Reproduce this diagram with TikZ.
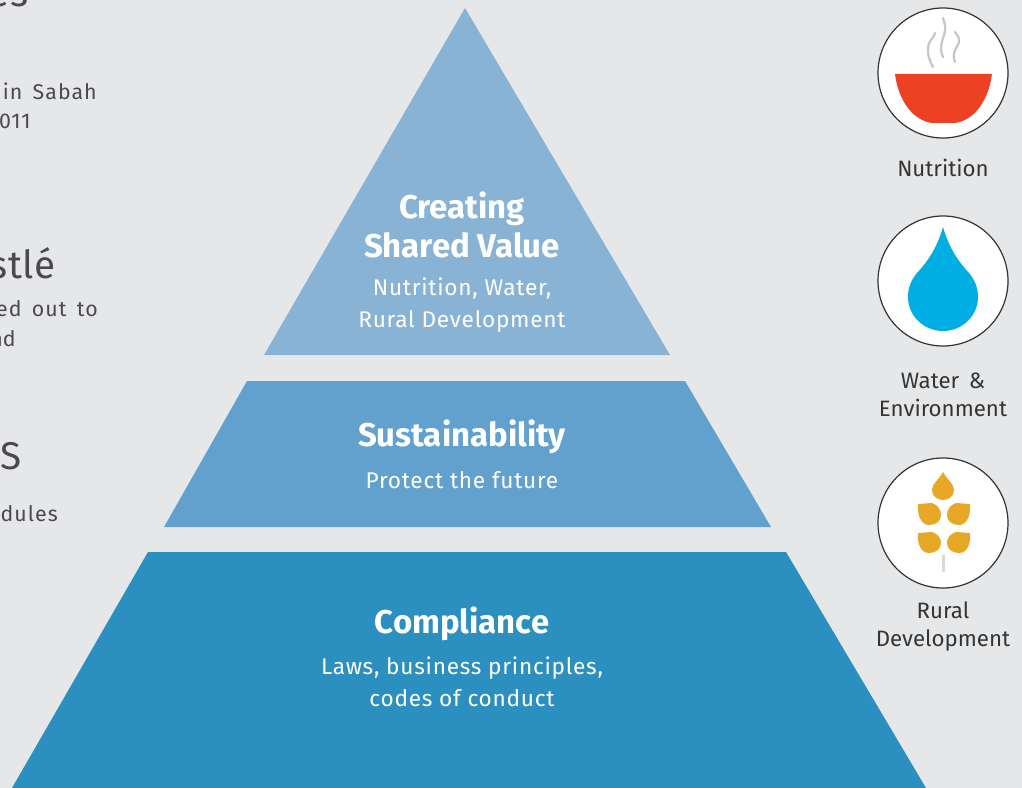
\documentclass[tikz,border=0pt]{standalone}
\usepackage{fontspec}
\setmainfont{Fira Sans}
\definecolor{bgc}{HTML}{E6E7E8}
\definecolor{topc}{HTML}{88B3D5}
\definecolor{midc}{HTML}{62A1CD}
\definecolor{lowc}{HTML}{2B90C0}
\definecolor{txtc}{HTML}{4A4A4C}
\definecolor{bowlc}{HTML}{EC4123}
\definecolor{dropc}{HTML}{00AEE4}
\definecolor{wheatc}{HTML}{E6A826}
\tikzset{
 x=0.75pt,y=-0.75pt,
 title/.style={anchor=base,text=white,font=\fontsize{24.7}{25}\selectfont\bfseries,inner sep=0pt},
 sub/.style={anchor=base,text=white,font=\fontsize{17}{17}\selectfont\addfontfeature{LetterSpace=3.2},inner sep=0pt},
 captext/.style={anchor=base,text=txtc!70!black,font=\fontsize{16.7}{17}\selectfont,inner sep=0pt},
 lefttext/.style={anchor=base east,text=txtc,font=\fontsize{16}{16}\selectfont\addfontfeature{LetterSpace=5},inner sep=0pt},
 lefthead/.style={anchor=base east,text=txtc,font=\fontsize{29}{29}\selectfont\addfontfeature{LetterSpace=2},inner sep=0pt},
 badge/.style={circle,draw=black!80,line width=0.9pt,fill=white,minimum size=97.5pt,inner sep=0pt},
 grain/.style={fill=wheatc},
 steam/.style={black!22,line width=1.7pt,line cap=round},
}
\begin{document}
\begin{tikzpicture}
\useasboundingbox (0,0) rectangle (1022,788);
\clip (0,0) rectangle (1022,788);
\fill[bgc] (0,0) rectangle (1022,788);
% left cut-off text
\node[lefthead] (h1) at (29,7) {es};
\node[lefttext] (l1) at (97,100) {in\, Sabah};
\node[lefttext] (l2) at (31,129) {011};
\node[lefthead] (h2) at (56,279) {stlé};
\node[lefttext] (l3) at (98,316) {ed\, out\, to};
\node[lefttext,font=\fontsize{16}{16}\selectfont] (l4) at (16,346) {nd};
\node[lefthead] (h3) at (22,469) {S};
\node[lefttext] (l5) at (58,521) {dules};
% pyramid
\fill[topc] (465,8) -- (670,355) -- (264,355) -- cycle;
\fill[midc] (247,381) -- (685,381) -- (771,527) -- (164,527) -- cycle;
\fill[lowc] (148,552) -- (786,552) -- (926,788) -- (12,788) -- cycle;
\node[title] (t1a) at (462,219) {Creating};
\node[title] (t1b) at (462,258) {Shared Value};
\node[sub] (s1a) at (462,296) {Nutrition, Water,};
\node[sub] (s1b) at (462,328) {Rural Development};
\node[title] (t2) at (462,446) {Sustainability};
\node[sub] (s2) at (462,488) {Protect the future};
\node[title] (t3) at (462,633) {Compliance};
\node[sub] (s3a) at (462,674) {Laws, business principles,};
\node[sub] (s3b) at (462,706) {codes of conduct};
% badges
\node[badge] (b1) at (943,73) {};
\node[badge] (b2) at (943,281) {};
\node[badge] (b3) at (943,523) {};
% bowl
\fill[bowlc] (895,74) -- (992,74) .. controls (989,98) and (976,120) .. (955,123) -- (932,123) .. controls (911,120) and (898,98) .. (895,74) -- cycle;
\draw[steam] (933,67) .. controls (926,55) and (927,45) .. (931,40) .. controls (934,36) and (935,34) .. (935,33);
\draw[steam] (943,57) .. controls (938,47) and (944,38) .. (945,31) .. controls (946,26) and (944,22) .. (943,18);
\draw[steam] (955,62) .. controls (951,52) and (958,47) .. (959,42) .. controls (960,38) and (957,35) .. (955,32);
% drop
\fill[dropc] (943,227) .. controls (937,248) and (928,261) .. (917,273) .. controls (911,280) and (908,288) .. (908,297) .. controls (908,316) and (924,331) .. (943,331) .. controls (962,331) and (978,316) .. (978,297) .. controls (978,288) and (975,280) .. (969,273) .. controls (958,261) and (949,248) .. (943,227) -- cycle;
% wheat
\fill[black!15] (942,555) rectangle (945,572);
\fill[grain] (943,472) .. controls (946,479) and (954,483) .. (954,490) .. controls (954,496) and (949,500) .. (943,500) .. controls (937,500) and (932,496) .. (932,490) .. controls (932,483) and (940,479) .. (943,472) -- cycle;
\fill[grain] (918,504) -- (932,503) .. controls (938,505) and (941,510) .. (941,515) .. controls (941,521) and (936,525) .. (929,525) .. controls (921,525) and (917,515) .. (918,504) -- cycle;
\fill[grain] (970,504) -- (956,503) .. controls (950,505) and (947,510) .. (947,515) .. controls (947,521) and (952,525) .. (959,525) .. controls (967,525) and (971,515) .. (970,504) -- cycle;
\fill[grain] (918,533) -- (932,532) .. controls (938,534) and (941,538) .. (941,543) .. controls (941,549) and (936,553) .. (929,553) .. controls (921,553) and (917,544) .. (918,533) -- cycle;
\fill[grain] (970,533) -- (956,532) .. controls (950,534) and (947,538) .. (947,543) .. controls (947,549) and (952,553) .. (959,553) .. controls (967,553) and (971,544) .. (970,533) -- cycle;
% captions
\node[captext] (c1) at (943,177) {Nutrition};
\node[captext] (c2a) at (943,388) {Water \,\&};
\node[captext] (c2b) at (943,416) {Environment};
\node[captext] (c3a) at (943,618) {Rural};
\node[captext] (c3b) at (943,646) {Development};
\end{tikzpicture}
\end{document}
